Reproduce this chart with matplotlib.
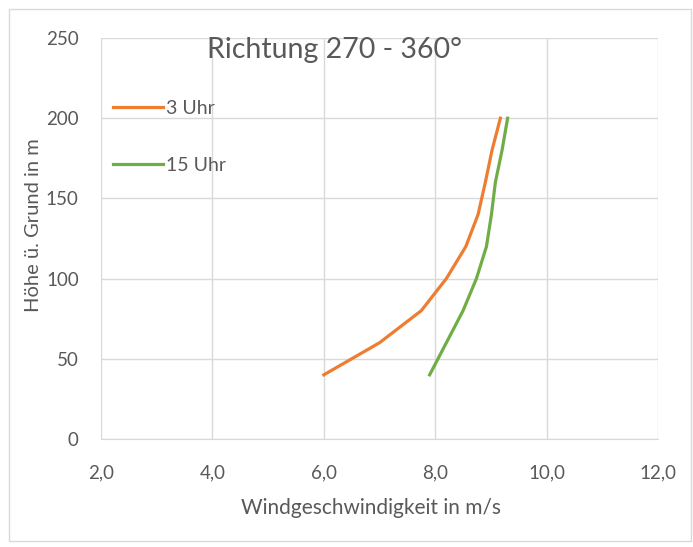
import matplotlib
matplotlib.use("Agg")
import matplotlib.pyplot as plt
from matplotlib.patches import Rectangle
from matplotlib.ticker import FuncFormatter

hoehe = [40, 60, 80, 100, 120, 140, 160, 180, 200]
uhr3 = [6.0, 7.0, 7.75, 8.2, 8.55, 8.77, 8.9, 9.02, 9.17]
uhr15 = [7.9, 8.2, 8.5, 8.74, 8.92, 9.01, 9.08, 9.2, 9.3]
x_ticks = [2, 4, 6, 8, 10, 12]
y_ticks = [0, 50, 100, 150, 200, 250]

plt.rcParams['font.family'] = ['Lato', 'DejaVu Sans']
txt = '#595959'

fig = plt.figure(figsize=(6.93, 5.47), dpi=100)
fig.patches.append(Rectangle((9/693, 6/547), 682/693, 532/547, transform=fig.transFigure,
                             fill=False, edgecolor='#D9D9D9', linewidth=1))
ax = fig.add_axes([101/693, 108/547, 557/693, 401/547])

ax.plot(uhr3, hoehe, color='#ED7D31', linewidth=2.3, label='3 Uhr')
ax.plot(uhr15, hoehe, color='#70AD47', linewidth=2.3, label='15 Uhr')

ax.set_xlim(2, 12)
ax.set_ylim(0, 250)
ax.set_xticks(x_ticks)
ax.set_yticks(y_ticks)
ax.xaxis.set_major_formatter(FuncFormatter(lambda v, p: f"{v:.1f}".replace('.', ',')))
ax.grid(True, color='#D9D9D9', linewidth=1)
ax.set_axisbelow(True)
for s in ['top', 'right', 'left']:
    ax.spines[s].set_visible(False)
ax.spines['bottom'].set_color('#D9D9D9')
ax.tick_params(length=0, colors=txt, labelsize=13.5)
ax.tick_params(axis='x', pad=18)
ax.tick_params(axis='y', pad=16)

ax.set_xlabel('Windgeschwindigkeit in m/s', color=txt, fontsize=15, labelpad=12)
ax.xaxis.label.set_x(0.485)
ax.set_ylabel('Höhe ü. Grund in m', color=txt, fontsize=14.5, labelpad=3)
ax.yaxis.label.set_y(0.534)

ax.text(0.42, 0.97, 'Richtung 270 - 360°', transform=ax.transAxes, ha='center', va='center',
        fontsize=20.5, color=txt)

leg = ax.legend(loc='upper left', bbox_to_anchor=(0.0, 0.875), frameon=False, fontsize=14,
                labelspacing=2.05, handlelength=2.6, handletextpad=0.15, labelcolor=txt,
                borderaxespad=0.2)

fig.savefig('out.png', dpi=100)
